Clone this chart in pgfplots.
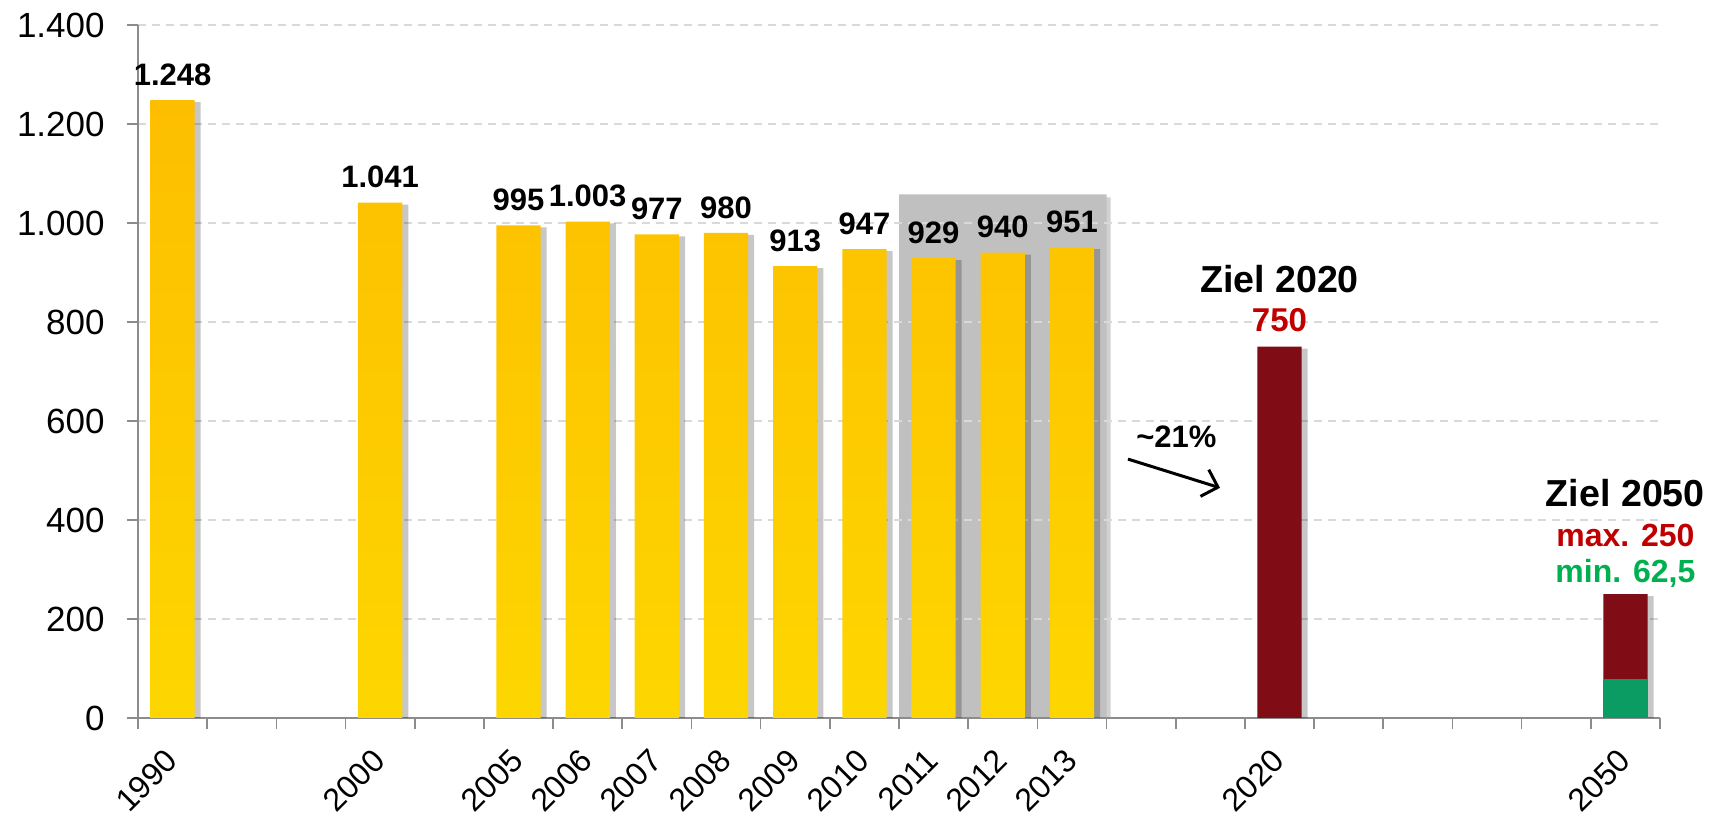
\documentclass[border=0pt]{standalone}
\usepackage{pgfplots}
\pgfplotsset{compat=1.18}
\usetikzlibrary{arrows.meta}
\usepackage{fontspec}
\setmainfont{Liberation Sans}
\definecolor{barTop}{HTML}{FDBE00}
\definecolor{barBot}{HTML}{FDD600}
\definecolor{darkred}{HTML}{800D16}
\definecolor{dgreen}{HTML}{0A9C63}
\definecolor{lred}{HTML}{C00000}
\definecolor{lgreen}{HTML}{00B050}
\definecolor{axgray}{HTML}{8C8C8C}
\definecolor{gridgray}{HTML}{D9D9D9}
\definecolor{boxgray}{HTML}{C0C0C0}
\newcommand\xl[1]{\fontsize{16}{19}\selectfont #1}
\begin{document}
\begin{tikzpicture}
\begin{axis}[
  set layers,
  at={(0,0)}, anchor=south west,
  scale only axis, width=761pt, height=346.5pt,
  xmin=-0.5, xmax=21.5, ymin=0, ymax=1400,
  axis lines=left, axis line style={draw=axgray, line width=0.8pt, -},
  tick align=outside, major tick length=5.5pt,
  tick style={draw=axgray, line width=0.8pt},
  ytick={0,200,...,1400},
  yticklabels={0,200,400,600,800,1.000,1.200,1.400},
  yticklabel style={font=\fontsize{17.5}{20}\selectfont, inner sep=0pt, xshift=-11pt},
  ymajorgrids, grid style={gridgray, line width=0.8pt, dash pattern=on 4pt off 3pt},
  xtick={-0.5,0.5,...,21.5}, xticklabels={},
  xticklabel style={inner sep=0pt, anchor=north east, xshift=-4.5pt, yshift=-14.5pt, rotate=45},
  extra x ticks={0,3,5,6,7,8,9,10,11,12,13,16,21},
  extra x tick labels={\xl{1990},\xl{2000},\xl{2005},\xl{2006},\xl{2007},\xl{2008},\xl{2009},\xl{2010},\xl{2011},\xl{2012},\xl{2013},\xl{2020},\xl{2050}},
  extra x tick style={major tick length=0pt, xmajorgrids=false},
  clip=false,
]
% grey highlight box and its shadow (background layer)
\addplot[on layer=axis background, fill=black, opacity=0.18, draw=none] coordinates {(10.56,0) (10.56,1052) (13.56,1052) (13.56,0)} \closedcycle;
\addplot[on layer=axis background, fill=boxgray, draw=none] coordinates {(10.5,0) (10.5,1058) (13.5,1058) (13.5,0)} \closedcycle;
% shadows of the bars
\addplot[ybar, bar width=0.64, bar shift=3pt, fill=black, opacity=0.22, draw=none] coordinates {
 (0,1244) (3,1037) (5,991) (6,999) (7,973) (8,976) (9,909) (10,943) (11,925) (12,936) (13,947) (16,746) (21,246)};
% yellow bars
\addplot[ybar, bar width=0.64, bar shift=0pt, draw=none, top color=barTop, bottom color=barBot,
  nodes near coords, point meta=explicit symbolic,
  nodes near coords style={font=\bfseries\fontsize{15.5}{17}\selectfont, anchor=south, inner sep=0pt, yshift=7pt, black, opacity=1}]
  coordinates {
 (0,1248) [1.248]
 (3,1041) [1.041]
 (5,995) [995]
 (6,1003) [1.003]
 (7,977) [977]
 (8,980) [980]
 (9,913) [913]
 (10,947) [947]
 (11,929) [929]
 (12,940) [940]
 (13,951) [951]};
% targets
\addplot[ybar, bar width=0.64, bar shift=0pt, draw=none, fill=darkred] coordinates {(16,750) (21,250)};
\addplot[ybar, bar width=0.66, bar shift=0pt, draw=none, fill=dgreen] coordinates {(21,79)};
% annotations
\node[anchor=base, font=\bfseries\fontsize{18.8}{21}\selectfont] at (axis cs:16,860) {Ziel 2020};
\node[anchor=base, font=\bfseries\fontsize{16.5}{18}\selectfont, text=lred] at (axis cs:16,780) {750};
\node[anchor=base, font=\bfseries\fontsize{18.8}{21}\selectfont] at (axis cs:21,428) {Ziel 2050};
\node[anchor=base, font=\bfseries\fontsize{16}{18}\selectfont, text=lred] at (axis cs:21,347) {max. 250};
\node[anchor=base, font=\bfseries\fontsize{16}{18}\selectfont, text=lgreen] at (axis cs:21,273) {min. 62,5};
\node[anchor=base, font=\bfseries\fontsize{15.5}{17}\selectfont] at (axis cs:14.51,547) {\textasciitilde21\%};
\draw[line width=1.5pt, -{Straight Barb[length=7pt, width=14pt, line width=1.5pt]}] (axis cs:13.81,523) -- (axis cs:15.14,465);
\end{axis}
\pgfresetboundingbox
\useasboundingbox (-69pt,-50.5pt) rectangle (791.5pt,359pt);
\end{tikzpicture}
\end{document}
